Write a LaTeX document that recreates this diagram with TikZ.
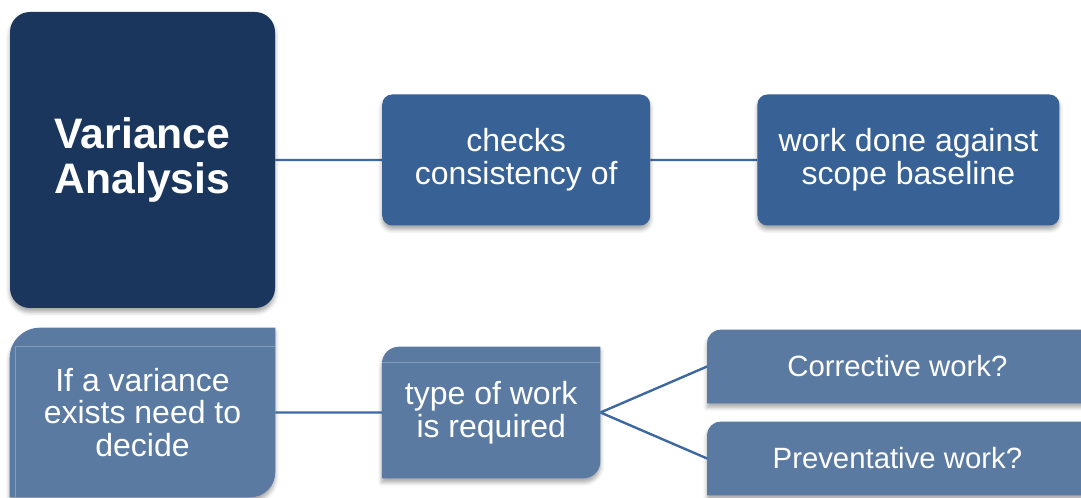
\documentclass[tikz,border=0pt]{standalone}
\usepackage{fontspec}
\setmainfont{Liberation Sans}
\usetikzlibrary{positioning,backgrounds,shadows.blur}

\definecolor{navy}{RGB}{26,54,92}
\definecolor{midblue}{RGB}{56,98,149}
\definecolor{paleblue}{RGB}{90,122,162}
\definecolor{linkblue}{RGB}{62,104,160}

\begin{document}
\begin{tikzpicture}[%
		x=0.75pt,
		y=0.75pt,
		node distance=80pt,
		shade/.style={%
			blur shadow={shadow xshift=0pt,shadow yshift=-3pt,shadow blur radius=3pt,shadow opacity=35}
		},
		headbox/.style={%
			fill=navy,
			rounded corners=15pt,
			minimum width=198.75pt,
			minimum height=222pt,
			text=white,
			align=center,
			inner sep=0pt,
			font=\fontsize{32}{34}\selectfont\bfseries,
			shade
		},
		topbox/.style={%
			fill=midblue,
			rounded corners=7.5pt,
			minimum height=98.25pt,
			text=white,
			align=center,
			inner sep=0pt,
			font=\fontsize{24}{24.75}\selectfont,
			shade
		},
		lowbox/.style={%
			text=white,
			align=center,
			inner sep=0pt,
			font=\fontsize{24}{24.5}\selectfont
		},
		lowfill/.style={%
			fill=paleblue,
			shade
		},
		gloss/.style={%
			draw=white,
			draw opacity=0.25,
			line width=0.6pt
		},
		link/.style={%
			draw=linkblue,
			line width=1.8pt
		}
		]
		\useasboundingbox (0,0) rectangle (1081,498);
		\clip (0,0) rectangle (1081,498);

		\node[headbox] (va) at (142.5,338)                          {Variance\\Analysis};
		\node[topbox, minimum width=201pt] (checks) [right=of va]    {checks\\consistency of};
		\node[topbox, minimum width=226.5pt] (work) [right=of checks] {work done against\\scope baseline};

		\node[lowbox, minimum width=198.75pt, minimum height=126.75pt] (decide) at (142.5,85.5) {If a variance\\exists need to\\decide};
		\node[lowbox, minimum width=163.5pt, minimum height=98.25pt] (type) [right=of decide]    {type of work\\is required};
		\node[lowbox, font=\fontsize{22}{24}\selectfont, minimum width=285pt, minimum height=54.75pt] (corr) [right=of type, yshift=34.5pt]  {Corrective work?};
		\node[lowbox, font=\fontsize{22}{24}\selectfont, minimum width=285pt, minimum height=54.75pt] (prev) [right=of type, yshift=-34.5pt] {Preventative work?};

		\begin{scope}[on background layer]
		% bottom row: only some corners rounded
		\path[lowfill] (decide.south west) -- ([yshift=-22.5pt]decide.north west)
			arc[start angle=180, end angle=90, radius=22.5pt] -- (decide.north east)
			-- ([yshift=18.75pt]decide.south east)
			arc[start angle=0, end angle=-90, radius=18.75pt] -- cycle;
		\path[lowfill] (type.south west) -- ([yshift=-12.75pt]type.north west)
			arc[start angle=180, end angle=90, radius=12.75pt] -- (type.north east)
			-- ([yshift=12.75pt]type.south east)
			arc[start angle=0, end angle=-90, radius=12.75pt] -- cycle;
		\path[lowfill] (corr.south west) -- ([yshift=-10pt]corr.north west)
			arc[start angle=180, end angle=90, radius=10pt] -- (corr.north east)
			-- (corr.south east) -- cycle;
		\path[lowfill] (prev.south west) -- ([yshift=-10pt]prev.north west)
			arc[start angle=180, end angle=90, radius=10pt] -- (prev.north east)
			-- (prev.south east) -- cycle;

		\draw[gloss] ([xshift=4.5pt]decide.south west) -- ([xshift=4.5pt,yshift=-14.25pt]decide.north west)
			-- ([yshift=-14.25pt]decide.north east);
		\draw[gloss] ([yshift=-12pt]type.north west) -- ([yshift=-12pt]type.north east);

		\path[link] (va) -- (checks)
			(checks) -- (work)
			(decide) -- (type)
			(type.east) -- (corr.west)
			(type.east) -- (prev.west);
		\end{scope}
\end{tikzpicture}
\end{document}
